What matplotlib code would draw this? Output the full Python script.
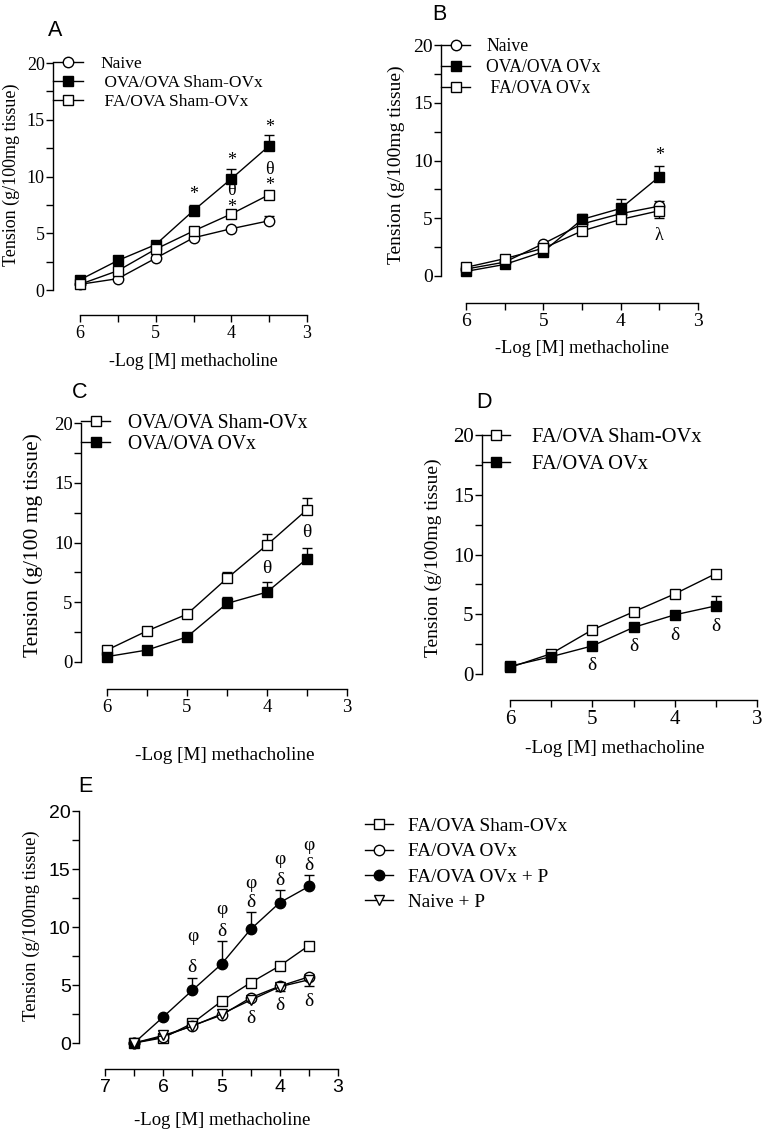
import numpy as np
import matplotlib
matplotlib.use("Agg")
import matplotlib.pyplot as plt

plt.rcParams['font.family'] = ['Liberation Serif', 'DejaVu Serif']
plt.rcParams['axes.linewidth'] = 1.0

W, H = 764, 1133

# methacholine doses (-log M)
dose = [6, 5.5, 5, 4.5, 4, 3.5]
dose_e = [6.5, 6, 5.5, 5, 4.5, 4, 3.5]

# panel A
a_naive = [0.5, 1.0, 2.8, 4.6, 5.4, 6.1]
a_naive_err = [0, 0, 0, 0, 0, 0.45]
a_ova_sham = [0.9, 2.6, 4.0, 7.0, 9.8, 12.7]
a_ova_sham_err = [0, 0, 0, 0.5, 0.9, 1.0]
a_fa_sham = [0.5, 1.7, 3.6, 5.2, 6.7, 8.4]
a_labels = ['Naive', ' OVA/OVA Sham-OVx', ' FA/OVA Sham-OVx']

# panel B
b_naive = [0.6, 1.2, 2.8, 4.5, 5.4, 6.05]
b_naive_err = [0, 0, 0, 0, 0, 0.45]
b_ova_ovx = [0.4, 1.0, 2.1, 4.9, 5.85, 8.6]
b_ova_ovx_err = [0, 0, 0, 0.5, 0.85, 0.95]
b_fa_ovx = [0.75, 1.5, 2.4, 3.9, 4.9, 5.65]
b_fa_ovx_err = [0, 0, 0, 0, 0, 0.6]
b_labels = ['Naive', 'OVA/OVA OVx', ' FA/OVA OVx']

# panel C
c_ova_sham = [1.0, 2.6, 4.0, 7.0, 9.8, 12.75]
c_ova_sham_err = [0, 0, 0, 0.5, 0.9, 0.95]
c_ova_ovx = [0.45, 1.0, 2.1, 4.9, 5.85, 8.65]
c_ova_ovx_err = [0, 0, 0, 0.5, 0.85, 0.9]
c_labels = ['OVA/OVA Sham-OVx', 'OVA/OVA OVx']

# panel D
d_fa_sham = [0.55, 1.7, 3.7, 5.2, 6.7, 8.4]
d_fa_ovx = [0.65, 1.45, 2.35, 3.9, 4.95, 5.7]
d_fa_ovx_err = [0, 0, 0, 0, 0, 0.8]
d_labels = ['FA/OVA Sham-OVx', 'FA/OVA OVx']

# panel E
e_fa_sham = [0, 0.45, 1.7, 3.6, 5.2, 6.65, 8.4]
e_fa_ovx = [0, 0.55, 1.5, 2.4, 3.9, 4.9, 5.7]
e_fa_ovx_p = [0, 2.25, 4.55, 6.8, 9.8, 12.1, 13.5]
e_fa_ovx_p_err = [0, 0, 1.05, 2.0, 1.5, 1.1, 1.0]
e_naive_p = [0, 0.65, 1.45, 2.5, 3.7, 4.85, 5.45]
e_naive_p_err = [0, 0, 0, 0, 0, 0.35, 0.5]
e_labels = ['FA/OVA Sham-OVx', 'FA/OVA OVx', 'FA/OVA OVx + P', 'Naive + P']

# significance marks (dose, tension, symbol)
a_marks = [(4.5, 8.4, '*'), (4, 11.4, '*'), (3.5, 14.3, '*'), (4, 8.0, 'θ\n*'),
           (3.5, 10.6, 'θ'), (3.5, 9.2, '*')]
b_marks = [(3.5, 10.4, '*'), (3.5, 3.5, 'λ')]
c_marks = [(4, 7.8, 'θ'), (3.5, 10.8, 'θ')]
d_marks = [(5, 0.7, 'δ'), (4.5, 2.3, 'δ'), (4, 3.2, 'δ'), (3.5, 3.95, 'δ')]
e_marks = [(5.5, 6.55, 'δ'), (5.5, 9.15, 'φ'), (5, 9.6, 'δ'), (5, 11.5, 'φ'),
           (4.5, 12.1, 'δ'), (4.5, 13.75, 'φ'), (4, 14.05, 'δ'), (4, 15.8, 'φ'),
           (3.5, 15.3, 'δ'), (3.5, 17.0, 'φ'), (4.5, 2.1, 'δ'), (4, 3.25, 'δ'),
           (3.5, 3.6, 'δ')]

fig = plt.figure(figsize=(W / 100, H / 100), dpi=100)

OPEN_SQ = dict(marker='s', mfc='white', mec='black')
FILL_SQ = dict(marker='s', mfc='black', mec='black')
OPEN_CI = dict(marker='o', mfc='white', mec='black')
FILL_CI = dict(marker='o', mfc='black', mec='black')
OPEN_TR = dict(marker='v', mfc='white', mec='black')


def panel(px_left, px_x0, px_x3, px_top, px_bot, px_spine, x0val, fs, family):
    per = (px_x3 - px_x0) / (x0val - 3.0)
    xleft = x0val + (px_x0 - px_left) / per
    ax = fig.add_axes([px_left / W, 1 - px_bot / H,
                       (px_x3 - px_left) / W, (px_bot - px_top) / H])
    ax.set_xlim(xleft, 3)
    ax.set_ylim(0, 20)
    for s in ['top', 'right']:
        ax.spines[s].set_visible(False)
    ax.spines['left'].set_bounds(0, 20)
    ax.spines['bottom'].set_bounds(x0val, 3)
    ax.spines['bottom'].set_position(('outward', (px_spine - px_bot) * 0.72))
    ax.set_xticks(np.arange(x0val, 2.9, -1))
    ax.set_xticks(np.arange(x0val - 0.5, 3.1, -1), minor=True)
    ax.set_yticks([0, 5, 10, 15, 20])
    ax.set_yticks([2.5, 7.5, 12.5, 17.5], minor=True)
    ax.tick_params(which='both', direction='out', length=5, width=1,
                   labelsize=fs, pad=2)
    ax.tick_params(axis='y', pad=1)
    for t in ax.get_xticklabels() + ax.get_yticklabels():
        t.set_family(family)
    return ax


def series(ax, x, y, style, label, err=None, down=False):
    if err is not None:
        lo = err if down else [0] * len(err)
        ax.errorbar(x, y, yerr=[lo, err], fmt='none', ecolor='black',
                    elinewidth=1, capsize=3.6, capthick=1, zorder=2, clip_on=False)
    ax.plot(x, y, color='black', lw=1, ms=7.5, mew=1, label=label,
            zorder=3, clip_on=False, **style)


def marks(ax, items, fs):
    for x, y, s in items:
        ax.text(x, y, s, ha='center', va='center', fontsize=fs, linespacing=1.0)


def legend(ax, x_px, y_px, fs, spacing_px, hl_px, gap_px):
    fs_px = fs * 100 / 72
    th = 0.9 * fs_px
    ax.legend(loc='upper left',
              bbox_to_anchor=(x_px / W, 1 - (y_px - th / 2) / H),
              bbox_transform=fig.transFigure, frameon=False, borderpad=0,
              borderaxespad=0, fontsize=fs, numpoints=1,
              handlelength=hl_px * 0.72 / fs, handletextpad=gap_px * 0.72 / fs,
              labelspacing=(spacing_px - th) / fs_px, handleheight=0.7)


def labels(ax, xl_px, xl_top, xl_fs, yl_right, yl_frac, yl_fs, px_left, px_x3,
           px_top, px_bot, ylabel):
    wpx = px_x3 - px_left
    hpx = px_bot - px_top
    ax.set_xlabel('-Log [M] methacholine', fontsize=xl_fs)
    ax.xaxis.set_label_coords((xl_px - px_left) / wpx, (px_bot - xl_top) / hpx)
    ax.set_ylabel(ylabel, fontsize=yl_fs)
    ax.yaxis.set_label_coords((yl_right - px_left) / wpx, yl_frac)


def letter(x_px, y_px, s):
    fig.text(x_px / W, 1 - y_px / H, s, family='Liberation Sans', fontsize=15.5,
             ha='center', va='center')


# ---- A
axA = panel(53, 80, 307, 63, 290, 315, 6, 13, 'Liberation Serif')
series(axA, dose, a_naive, OPEN_CI, a_labels[0], a_naive_err)
series(axA, dose, a_ova_sham, FILL_SQ, a_labels[1], a_ova_sham_err)
series(axA, dose, a_fa_sham, OPEN_SQ, a_labels[2])
marks(axA, a_marks, 13)
legend(axA, 53, 64, 12.5, 18.5, 30, 17)
labels(axA, 193, 353, 13, 20, 0.507, 13, 53, 307, 63, 290,
       'Tension (g/100mg tissue)')
letter(55, 31, 'A')

# ---- B
axB = panel(441, 466, 698, 45, 276, 303, 6, 14, 'Liberation Serif')
series(axB, dose, b_naive, OPEN_CI, b_labels[0], b_naive_err)
series(axB, dose, b_ova_ovx, FILL_SQ, b_labels[1], b_ova_ovx_err)
series(axB, dose, b_fa_ovx, OPEN_SQ, b_labels[2], b_fa_ovx_err, down=True)
marks(axB, b_marks, 13)
legend(axB, 441, 46, 12.7, 20, 29, 16)
labels(axB, 582, 340, 13.3, 405, 0.48, 14, 441, 698, 45, 276,
       'Tension (g/100mg tissue)')
letter(439, 14, 'B')

# ---- C
axC = panel(81, 107, 347, 423, 662, 689, 6, 13.5, 'Liberation Serif')
series(axC, dose, c_ova_sham, OPEN_SQ, c_labels[0], c_ova_sham_err)
series(axC, dose, c_ova_ovx, FILL_SQ, c_labels[1], c_ova_ovx_err)
marks(axC, c_marks, 14)
legend(axC, 81, 423, 14.2, 20, 29, 18)
labels(axC, 225, 747, 13.8, 43, 0.49, 15.5, 81, 347, 423, 662,
       'Tension (g/100 mg tissue)')
letter(80, 393, 'C')

# ---- D
axD = panel(482, 510, 757, 435, 674, 700, 6, 15, 'Liberation Serif')
series(axD, dose, d_fa_sham, OPEN_SQ, d_labels[0])
series(axD, dose, d_fa_ovx, FILL_SQ, d_labels[1], d_fa_ovx_err)
marks(axD, d_marks, 14)
legend(axD, 482, 437, 14.8, 26, 28, 22)
labels(axD, 615, 740, 13.8, 442, 0.485, 14, 482, 757, 435, 674,
       'Tension (g/100mg tissue)')
letter(484, 403, 'D')

# ---- E
axE = panel(79, 105, 338, 811, 1043, 1069, 7, 14, 'Liberation Sans')
series(axE, dose_e, e_fa_sham, OPEN_SQ, e_labels[0])
series(axE, dose_e, e_fa_ovx, OPEN_CI, e_labels[1])
series(axE, dose_e, e_fa_ovx_p, FILL_CI, e_labels[2], e_fa_ovx_p_err)
series(axE, dose_e, e_naive_p, OPEN_TR, e_labels[3], e_naive_p_err, down=True)
marks(axE, e_marks, 14)
legend(axE, 365, 826, 13.9, 25.3, 28, 15)
labels(axE, 222, 1112, 13.5, 40, 0.504, 13.5, 79, 338, 811, 1043,
       'Tension (g/100mg tissue)')
letter(85, 787, 'E')

fig.savefig('out.png', dpi=100)
